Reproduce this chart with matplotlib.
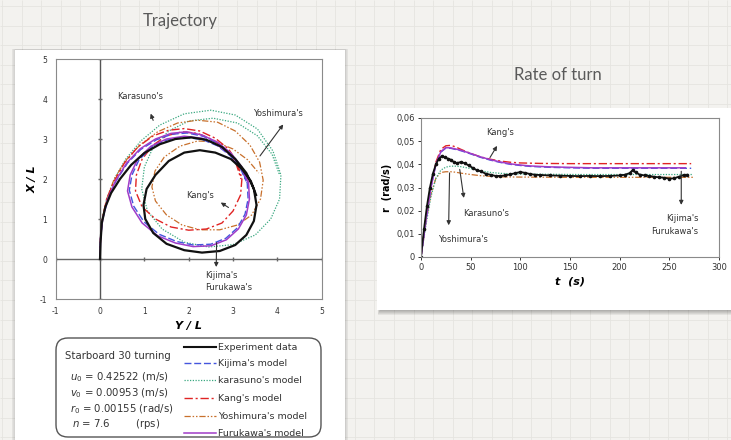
import matplotlib
matplotlib.use("Agg")
import matplotlib.pyplot as plt
import numpy as np
from matplotlib.patches import Rectangle, FancyBboxPatch

plt.rcParams["font.family"] = ["DejaVu Sans"]
plt.rcParams["axes.unicode_minus"] = False

W, H = 731, 440

# ---- Trajectory (horizontal Y/L, vertical X/L) ----
exp_y = [0, 0.01, 0.04, 0.12, 0.25, 0.45, 0.7, 1.0, 1.35, 1.7, 2.05, 2.4, 2.75, 3.05, 3.3, 3.47, 3.53,
         3.47, 3.3, 3.05, 2.7, 2.3, 1.9, 1.5, 1.2, 1.02, 0.98, 1.05, 1.25, 1.55, 1.9, 2.25, 2.6, 2.95,
         3.2, 3.4, 3.52]
exp_x = [0, 0.4, 0.9, 1.3, 1.65, 2.0, 2.35, 2.65, 2.87, 3.0, 3.04, 2.98, 2.8, 2.5, 2.15, 1.75, 1.35,
         0.95, 0.6, 0.35, 0.2, 0.16, 0.22, 0.38, 0.65, 1.0, 1.35, 1.75, 2.1, 2.45, 2.66, 2.72, 2.66, 2.5,
         2.25, 1.95, 1.6]

kij_y = [0, 0.01, 0.06, 0.18, 0.36, 0.62, 0.92, 1.27, 1.62, 1.97, 2.32, 2.66, 2.95, 3.18, 3.32, 3.34,
         3.27, 3.1, 2.84, 2.5, 2.1, 1.72, 1.33, 0.99, 0.76, 0.66, 0.72, 0.88, 1.17, 1.52, 1.92, 2.3,
         2.65, 2.94, 3.16, 3.3]
kij_x = [0, 0.5, 1.0, 1.5, 1.95, 2.4, 2.74, 2.98, 3.12, 3.15, 3.07, 2.89, 2.62, 2.28, 1.9, 1.5,
         1.12, 0.78, 0.52, 0.37, 0.35, 0.44, 0.62, 0.93, 1.32, 1.72, 2.1, 2.48, 2.8, 2.98, 3.04, 2.99,
         2.83, 2.58, 2.28, 1.94]

kar_y = [0, 0.01, 0.05, 0.15, 0.32, 0.58, 0.92, 1.35, 1.9, 2.5, 3.05, 3.55, 3.9, 4.08, 4.05, 3.85,
         3.5, 3.0, 2.45, 1.9, 1.4, 1.07, 0.94, 1.0, 1.2, 1.55, 2.0, 2.55, 3.1, 3.55, 3.88, 4.05]
kar_x = [0, 0.5, 1.0, 1.5, 2.0, 2.5, 2.95, 3.35, 3.63, 3.72, 3.6, 3.25, 2.7, 2.1, 1.5, 1.0,
         0.6, 0.36, 0.3, 0.42, 0.75, 1.2, 1.75, 2.3, 2.8, 3.2, 3.45, 3.52, 3.4, 3.08, 2.62, 2.1]

kang_y = [0, 0.01, 0.05, 0.15, 0.32, 0.55, 0.85, 1.2, 1.55, 1.9, 2.25, 2.6, 2.9, 3.1, 3.2, 3.17,
          3.0, 2.75, 2.4, 2.0, 1.6, 1.25, 0.95, 0.8, 0.82, 0.95, 1.2, 1.5, 1.85, 2.2, 2.55, 2.85,
          3.07, 3.18]
kang_x = [0, 0.5, 1.0, 1.5, 1.95, 2.4, 2.8, 3.08, 3.22, 3.26, 3.2, 3.02, 2.75, 2.4, 2.0, 1.6,
          1.2, 0.9, 0.75, 0.72, 0.8, 1.0, 1.3, 1.7, 2.1, 2.5, 2.85, 3.08, 3.18, 3.14, 2.98, 2.72,
          2.38, 2.0]

yos_y = [0, 0.01, 0.05, 0.15, 0.32, 0.57, 0.9, 1.3, 1.75, 2.2, 2.65, 3.05, 3.38, 3.6, 3.68, 3.62,
         3.42, 3.1, 2.7, 2.25, 1.85, 1.5, 1.25, 1.17, 1.24, 1.45, 1.8, 2.2, 2.6, 3.0, 3.33, 3.58]
yos_x = [0, 0.5, 1.0, 1.5, 2.0, 2.45, 2.85, 3.18, 3.4, 3.47, 3.42, 3.2, 2.85, 2.42, 1.97, 1.5,
         1.1, 0.85, 0.73, 0.73, 0.85, 1.1, 1.45, 1.8, 2.2, 2.55, 2.82, 2.95, 2.93, 2.75, 2.48, 2.15]

fur_y = [0, 0.01, 0.06, 0.17, 0.35, 0.6, 0.9, 1.25, 1.6, 1.95, 2.3, 2.65, 2.95, 3.2, 3.35, 3.37,
         3.3, 3.12, 2.85, 2.5, 2.1, 1.7, 1.3, 0.95, 0.72, 0.62, 0.68, 0.85, 1.15, 1.5, 1.9, 2.3,
         2.65, 2.95, 3.18, 3.33]
fur_x = [0, 0.5, 1.0, 1.5, 1.95, 2.4, 2.75, 3.0, 3.14, 3.18, 3.1, 2.92, 2.65, 2.3, 1.9, 1.5,
         1.1, 0.75, 0.48, 0.33, 0.31, 0.4, 0.58, 0.9, 1.3, 1.7, 2.1, 2.5, 2.82, 3.0, 3.07, 3.02,
         2.85, 2.6, 2.3, 1.95]

traj_ticks = [-1, 0, 1, 2, 3, 4, 5]

# ---- Rate of turn ----
t_exp = [0, 3, 6, 9, 12, 15, 18, 21, 24, 27, 30, 33, 36, 40, 44, 48, 52, 56, 60, 65, 70, 75, 80,
         85, 90, 95, 100, 105, 110, 115, 120, 130, 140, 150, 160, 170, 180, 190, 200, 205, 210,
         213, 216, 220, 225, 230, 235, 240, 245, 250, 255, 260, 265, 268]
r_exp = [0, 0.012, 0.022, 0.030, 0.036, 0.040, 0.0425, 0.0435, 0.043, 0.0425, 0.042, 0.041,
         0.0405, 0.041, 0.0405, 0.0395, 0.0385, 0.0375, 0.037, 0.036, 0.0355, 0.035, 0.035,
         0.0352, 0.0357, 0.0362, 0.0367, 0.0363, 0.0358, 0.0355, 0.0354, 0.0352, 0.0351, 0.035,
         0.0349, 0.035, 0.0349, 0.035, 0.0352, 0.0355, 0.0362, 0.0375, 0.0365, 0.0356, 0.0352,
         0.035, 0.0346, 0.0344, 0.0342, 0.0338, 0.034, 0.0347, 0.0354, 0.0355]

t_kang = [0, 5, 10, 15, 20, 25, 30, 35, 40, 50, 60, 70, 80, 90, 100, 120, 150, 200, 250, 272]
r_kang = [0, 0.017, 0.031, 0.041, 0.0465, 0.048, 0.0482, 0.0475, 0.0465, 0.0447, 0.0432,
          0.0422, 0.0414, 0.0409, 0.0406, 0.0404, 0.0403, 0.0403, 0.0403, 0.0403]

t_fur = [0, 5, 10, 15, 20, 25, 30, 40, 50, 60, 70, 80, 90, 100, 110, 130, 150, 172, 200, 250, 266]
r_fur = [0, 0.016, 0.030, 0.040, 0.0455, 0.0472, 0.0471, 0.0461, 0.0447, 0.0432, 0.042, 0.041,
         0.0402, 0.0397, 0.0393, 0.0389, 0.0387, 0.0385, 0.0385, 0.0385, 0.0385]

t_kij = [0, 5, 10, 15, 20, 25, 30, 40, 50, 60, 70, 80, 90, 100, 110, 130, 150, 172, 200, 250, 272]
r_kij = [0, 0.016, 0.030, 0.040, 0.0453, 0.047, 0.0469, 0.0459, 0.0445, 0.043, 0.0418, 0.0408,
         0.04, 0.0395, 0.0391, 0.0387, 0.0385, 0.0383, 0.0383, 0.0383, 0.0383]

t_kar = [0, 5, 10, 15, 20, 25, 30, 35, 40, 50, 60, 70, 80, 100, 130, 160, 200, 240, 274]
r_kar = [0, 0.014, 0.026, 0.034, 0.0375, 0.0388, 0.0392, 0.0392, 0.039, 0.0382, 0.0372, 0.0365,
         0.0361, 0.0358, 0.0357, 0.0356, 0.0356, 0.0356, 0.0356]

t_yos = [0, 5, 10, 15, 20, 25, 30, 35, 40, 50, 60, 70, 80, 100, 150, 200, 250, 274]
r_yos = [0, 0.015, 0.027, 0.034, 0.0365, 0.0368, 0.0368, 0.0366, 0.0362, 0.0356, 0.0351, 0.0348,
         0.0346, 0.0345, 0.0344, 0.0344, 0.0344, 0.0344]

rate_xticks = [0, 50, 100, 150, 200, 250, 300]
rate_yticks = [0, 0.01, 0.02, 0.03, 0.04, 0.05, 0.06]
rate_ylabels = ["0", "0,01", "0,02", "0,03", "0,04", "0,05", "0,06"]

# styles per model
C_EXP = "#111111"
C_KIJ = "#4455dd"
C_KAR = "#3aa880"
C_KANG = "#e02424"
C_YOS = "#c8702c"
C_FUR = "#a03cc8"
DASH_KANG = (0, (6, 2, 1.5, 2))
DASH_YOS = (0, (5, 1.5, 1.2, 1.5, 1.2, 1.5))
DOTS = (0, (1, 1.2))
DASHES = (0, (5, 2))


def px_rect(x0, y0, x1, y1):
    return [x0 / W, 1 - y1 / H, (x1 - x0) / W, (y1 - y0) / H]


fig = plt.figure(figsize=(W / 100, H / 100), dpi=100)
fig.patch.set_facecolor("#f3f2ef")

# background: grid paper + white panels with a soft shadow
bg = fig.add_axes([0, 0, 1, 1])
bg.set_xlim(0, W)
bg.set_ylim(H, 0)
bg.axis("off")
bg.vlines(np.arange(2, W, 19.6), 0, H, color="#e5e4e0", lw=0.6, zorder=0)
bg.hlines(np.arange(6, H, 19.6), 0, W, color="#e5e4e0", lw=0.6, zorder=0)

for k in range(5):
    bg.add_patch(Rectangle((15 - 0.5 - k * 0.7, 50 - 0.5), 331 + k * 1.4, 400,
                           facecolor="#000000", alpha=0.03, lw=0, zorder=1))
    bg.add_patch(Rectangle((377 + 3 - k * 0.6, 109), 360, 202 + 0.5 + k * 1.0,
                           facecolor="#000000", alpha=0.06, lw=0, zorder=1))
bg.add_patch(Rectangle((15, 50), 330, 400, facecolor="white", lw=0, zorder=2))
bg.add_patch(Rectangle((377, 108), 360, 202, facecolor="white", lw=0, zorder=2))

bg.text(180, 21, "Trajectory", ha="center", va="center", fontsize=12,
        color="#5a5a5a", family=["Lato", "DejaVu Sans"], zorder=5)
bg.text(558, 75, "Rate of turn", ha="center", va="center", fontsize=12,
        color="#5a5a5a", family=["Lato", "DejaVu Sans"], zorder=5)

# ---- Trajectory axes ----
ax = fig.add_axes(px_rect(55.7, 59, 321.7, 299))
ax.set_facecolor("none")
ax.set_xlim(-1, 5)
ax.set_ylim(-1, 5)
ax.axhline(0, color="#666666", lw=1.0, zorder=1)
ax.axvline(0, color="#555555", lw=1.0, zorder=1)
ax.plot(traj_ticks, [0] * len(traj_ticks), ls="none", marker="|", ms=3, color="#666666")
ax.plot([0] * len(traj_ticks), traj_ticks, ls="none", marker="_", ms=3, color="#666666")

ax.plot(kar_y, kar_x, color=C_KAR, lw=0.9, ls=DOTS)
ax.plot(yos_y, yos_x, color=C_YOS, lw=0.9, ls=DASH_YOS)
ax.plot(kang_y, kang_x, color=C_KANG, lw=1.0, ls=DASH_KANG)
ax.plot(kij_y, kij_x, color=C_KIJ, lw=1.0, ls=DASHES)
ax.plot(fur_y, fur_x, color=C_FUR, lw=1.1)
ax.plot(exp_y, exp_x, color=C_EXP, lw=1.6)

ax.set_xticks(traj_ticks)
ax.set_yticks(traj_ticks)
ax.tick_params(length=0, labelsize=5.5, colors="#333333", pad=6)
for s in ax.spines.values():
    s.set_color("#8a8a8a")
    s.set_linewidth(0.8)
ax.set_xlabel("Y / L", fontsize=8, fontweight="bold", style="italic", labelpad=3)
ax.set_ylabel("X / L", fontsize=8, fontweight="bold", style="italic", labelpad=2)

arrow_kw = dict(arrowstyle="-|>", color="#333333", lw=0.8, mutation_scale=6)
ax.text(0.38, 4.06, "Karasuno's", fontsize=6, color="#333333", va="center")
ax.annotate("", xy=(1.12, 3.7), xytext=(1.22, 3.4), arrowprops=arrow_kw)
ax.text(3.45, 3.64, "Yoshimura's", fontsize=6, color="#333333", va="center")
ax.annotate("", xy=(4.17, 3.42), xytext=(3.57, 2.52), arrowprops=arrow_kw)
ax.text(1.95, 1.58, "Kang's", fontsize=6, color="#333333", va="center")
ax.annotate("", xy=(2.67, 1.45), xytext=(2.95, 1.25), arrowprops=arrow_kw)
ax.text(2.37, -0.57, "Kijima's\nFurukawa's", fontsize=6, color="#333333", va="center",
        linespacing=1.4)
ax.annotate("", xy=(2.62, -0.27), xytext=(2.63, 0.48), arrowprops=arrow_kw)

# ---- legend box below trajectory ----
lg = fig.add_axes(px_rect(54, 336, 323, 439))
lg.set_xlim(54, 323)
lg.set_ylim(439, 336)
lg.axis("off")
lg.add_patch(FancyBboxPatch((56, 338), 265, 99, boxstyle="round,pad=0,rounding_size=12",
                            facecolor="none", edgecolor="#555555", lw=1.0))
lg.text(65, 356, "Starboard 30 turning", fontsize=7.3, color="#333333", va="center")
lg.text(70, 377, r"$u_0$ = 0.42522 (m/s)", fontsize=7.3, color="#333333", va="center")
lg.text(70, 393, r"$v_0$ = 0.00953 (m/s)", fontsize=7.3, color="#333333", va="center")
lg.text(70, 409, r"$r_0$ = 0.00155 (rad/s)", fontsize=7.3, color="#333333", va="center")
lg.text(72, 424, r"$n$ = 7.6        (rps)", fontsize=7.3, color="#333333", va="center")

legend_rows = [
    ("Experiment data", C_EXP, "-", 1.5),
    ("Kijima's model", C_KIJ, DASHES, 1.0),
    ("karasuno's model", C_KAR, DOTS, 0.9),
    ("Kang's model", C_KANG, DASH_KANG, 1.0),
    ("Yoshimura's model", C_YOS, DASH_YOS, 0.9),
    ("Furukawa's model", C_FUR, "-", 1.1),
]
row_y = [347, 363, 380, 398, 416, 433]
for (lab, col, ls, lw), yy in zip(legend_rows, row_y):
    lg.plot([184, 216], [yy, yy], color=col, ls=ls, lw=lw)
    lg.text(218, yy, lab, fontsize=6.8, color="#333333", va="center")

# ---- Rate of turn axes ----
ar = fig.add_axes(px_rect(421, 118, 719, 257))
ar.set_facecolor("none")
ar.set_xlim(0, 300)
ar.set_ylim(0, 0.06)
ar.plot(t_yos, r_yos, color=C_YOS, lw=0.9, ls=DASH_YOS)
ar.plot(t_kar, r_kar, color=C_KAR, lw=0.9, ls=DOTS)
ar.plot(t_kang, r_kang, color=C_KANG, lw=1.0, ls=DASH_KANG)
ar.plot(t_kij, r_kij, color=C_KIJ, lw=1.0, ls=DASHES)
ar.plot(t_fur, r_fur, color=C_FUR, lw=1.1)
ar.plot(t_exp, r_exp, color=C_EXP, lw=1.3, marker="o", ms=1.6)
ar.set_xticks(rate_xticks)
ar.set_yticks(rate_yticks)
ar.set_yticklabels(rate_ylabels)
ar.tick_params(length=2.5, width=0.7, labelsize=6, colors="#333333", pad=2)
for s in ar.spines.values():
    s.set_color("#8a8a8a")
    s.set_linewidth(0.8)
ar.set_xlabel("t  (s)", fontsize=8, fontweight="bold", style="italic", labelpad=3)
ar.set_ylabel("r  (rad/s)", fontsize=7, fontweight="bold", labelpad=3)

ar.text(66, 0.0537, "Kang's", fontsize=6, color="#333333", va="center")
ar.annotate("", xy=(78, 0.049), xytext=(68, 0.0419), arrowprops=arrow_kw)
ar.text(42, 0.0188, "Karasuno's", fontsize=6, color="#333333", va="center")
ar.annotate("", xy=(43.5, 0.0243), xytext=(38.6, 0.039), arrowprops=arrow_kw)
ar.text(17, 0.0076, "Yoshimura's", fontsize=6, color="#333333", va="center")
ar.annotate("", xy=(27.8, 0.0125), xytext=(28.8, 0.0375), arrowprops=arrow_kw)
ar.text(279, 0.0138, "Kijima's\nFurukawa's", fontsize=6, color="#333333", va="center",
        ha="right", linespacing=1.5)
ar.annotate("", xy=(262, 0.0213), xytext=(262, 0.0382), arrowprops=arrow_kw)

fig.savefig("out.png", dpi=100, facecolor=fig.get_facecolor())
